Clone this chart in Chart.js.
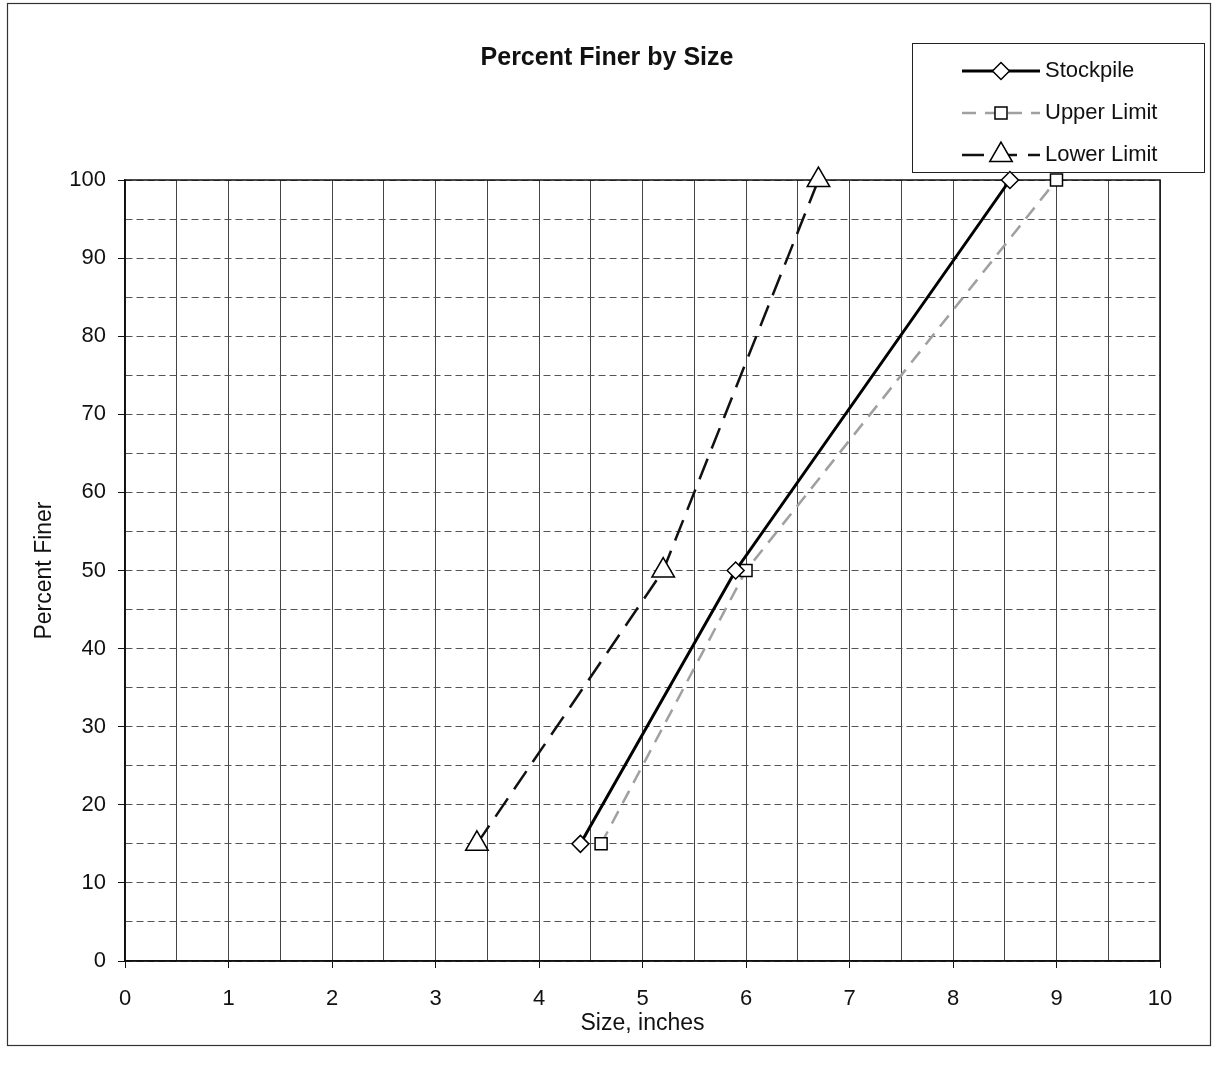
<!DOCTYPE html>
<html>
<head>
<meta charset="utf-8">
<title>Percent Finer by Size</title>
<script src="https://cdn.jsdelivr.net/npm/chart.js@4.4.1/dist/chart.umd.min.js"></script>
<style>
  body { margin: 0; background: #fff; }
  #wrap { width: 1217px; height: 1072px; }
</style>
</head>
<body>
<div id="wrap"><canvas id="chart" width="1217" height="1072"></canvas></div>
<script>
// values
const percentFiner = [15, 50, 100];
const stockpileSize = [4.4, 5.9, 8.55];
const upperLimitSize = [4.6, 6.0, 9.0];
const lowerLimitSize = [3.4, 5.2, 6.7];

const xTicks = [0, 1, 2, 3, 4, 5, 6, 7, 8, 9, 10];
const yTicks = [0, 10, 20, 30, 40, 50, 60, 70, 80, 90, 100];

const FONT = "'Liberation Sans', Arial, sans-serif";

function toPoints(xs, ys) {
  return xs.map((x, i) => ({ x: x, y: ys[i] }));
}

// page background, outer frame, plot frame, title and legend box
const paperPlugin = {
  id: 'paper',
  beforeDraw(chart) {
    const ctx = chart.ctx;
    ctx.save();
    ctx.fillStyle = '#fff';
    ctx.fillRect(0, 0, chart.width, chart.height);
    ctx.restore();
  },
  beforeDatasetsDraw(chart) {
    const { ctx, chartArea: a } = chart;
    ctx.save();
    ctx.strokeStyle = '#111';
    ctx.lineWidth = 1.5;
    ctx.strokeRect(a.left, a.top, a.right - a.left, a.bottom - a.top);
    ctx.restore();
  },
  afterDraw(chart) {
    const ctx = chart.ctx;
    ctx.save();
    // outer frame
    ctx.strokeStyle = '#333';
    ctx.lineWidth = 1.2;
    ctx.strokeRect(7.5, 3.5, 1203, 1042);

    // title
    ctx.fillStyle = '#111';
    ctx.font = 'bold 25px ' + FONT;
    ctx.textAlign = 'center';
    ctx.textBaseline = 'middle';
    ctx.fillText('Percent Finer by Size', 607, 58);

    // legend
    ctx.strokeStyle = '#222';
    ctx.lineWidth = 1;
    ctx.strokeRect(912.5, 43.5, 292, 129);
    const rows = [71, 113, 155];
    chart.data.datasets.forEach((ds, i) => {
      const y = rows[i];
      ctx.save();
      ctx.strokeStyle = ds.borderColor;
      ctx.lineWidth = ds.borderWidth;
      ctx.setLineDash(ds.borderDash || []);
      ctx.beginPath();
      ctx.moveTo(962, y);
      ctx.lineTo(1040, y);
      ctx.stroke();
      ctx.restore();
      Chart.helpers.drawPoint(ctx, {
        pointStyle: ds.pointStyle,
        radius: ds.pointRadius,
        borderWidth: ds.pointBorderWidth
      }, 1001, y);
      ctx.fillStyle = '#111';
      ctx.font = '22px ' + FONT;
      ctx.textAlign = 'left';
      ctx.textBaseline = 'middle';
      ctx.fillText(ds.label, 1045, y);
    });
    ctx.restore();
  }
};

// drawPoint uses the current ctx fill/stroke, so wrap it
const _drawPoint = Chart.helpers.drawPoint;
Chart.helpers.drawPoint = function (ctx, opts, x, y) {
  ctx.save();
  ctx.fillStyle = '#fff';
  ctx.strokeStyle = '#000';
  ctx.lineWidth = opts.borderWidth;
  ctx.setLineDash([]);
  _drawPoint(ctx, opts, x, y);
  ctx.restore();
};

const ctx = document.getElementById('chart').getContext('2d');

const chart = new Chart(ctx, {
  type: 'scatter',
  data: {
    datasets: [{
      label: 'Stockpile',
      data: toPoints(stockpileSize, percentFiner),
      showLine: true,
      clip: false,
      borderColor: '#000',
      borderWidth: 3,
      pointStyle: 'rectRot',
      pointRadius: 8.5,
      pointBorderWidth: 1.5,
      pointBackgroundColor: '#fff',
      pointBorderColor: '#000'
    }, {
      label: 'Upper Limit',
      data: toPoints(upperLimitSize, percentFiner),
      showLine: true,
      clip: false,
      borderColor: '#a0a0a0',
      borderWidth: 2.5,
      borderDash: [14, 9],
      pointStyle: 'rect',
      pointRadius: 8.5,
      pointBorderWidth: 1.5,
      pointBackgroundColor: '#fff',
      pointBorderColor: '#000'
    }, {
      label: 'Lower Limit',
      data: toPoints(lowerLimitSize, percentFiner),
      showLine: true,
      clip: false,
      borderColor: '#111',
      borderWidth: 2.5,
      borderDash: [22, 11],
      pointStyle: 'triangle',
      pointRadius: 13,
      pointBorderWidth: 1.5,
      pointBackgroundColor: '#fff',
      pointBorderColor: '#000'
    }]
  },
  options: {
    responsive: false,
    animation: false,
    layout: { padding: { top: 180, right: 57, bottom: 0, left: 0 } },
    plugins: {
      legend: { display: false },
      title: { display: false },
      tooltip: { enabled: false }
    },
    scales: {
      x: {
        type: 'linear',
        min: xTicks[0],
        max: xTicks[xTicks.length - 1],
        afterFit(scale) { scale.height = 111; },
        ticks: {
          stepSize: 0.5,
          autoSkip: false,
          maxRotation: 0,
          padding: 18,
          color: '#111',
          font: { family: FONT, size: 22 },
          callback: v => xTicks.includes(v) ? v : ''
        },
        grid: {
          color: '#444',
          lineWidth: 1,
          tickLength: 7,
          tickColor: c => (c.tick && xTicks.includes(c.tick.value)) ? '#111' : 'rgba(0,0,0,0)'
        },
        border: { color: '#111', width: 1.5 },
        title: {
          display: true,
          text: 'Size, inches',
          color: '#111',
          font: { family: FONT, size: 23 },
          padding: { top: 0, bottom: 35 }
        }
      },
      y: {
        type: 'linear',
        min: yTicks[0],
        max: yTicks[yTicks.length - 1],
        afterFit(scale) { scale.width = 125; },
        ticks: {
          stepSize: 5,
          autoSkip: false,
          padding: 12,
          color: '#111',
          font: { family: FONT, size: 22 },
          callback: v => yTicks.includes(v) ? v : ''
        },
        grid: {
          color: '#555',
          lineWidth: 1,
          tickLength: 7,
          tickColor: c => (c.tick && yTicks.includes(c.tick.value)) ? '#111' : 'rgba(0,0,0,0)'
        },
        border: { color: '#111', width: 1.5, dash: [7, 4] },
        title: {
          display: true,
          text: 'Percent Finer',
          color: '#111',
          font: { family: FONT, size: 23 },
          padding: { top: 31, bottom: 0 }
        }
      }
    }
  },
  plugins: [paperPlugin]
});
</script>
</body>
</html>
